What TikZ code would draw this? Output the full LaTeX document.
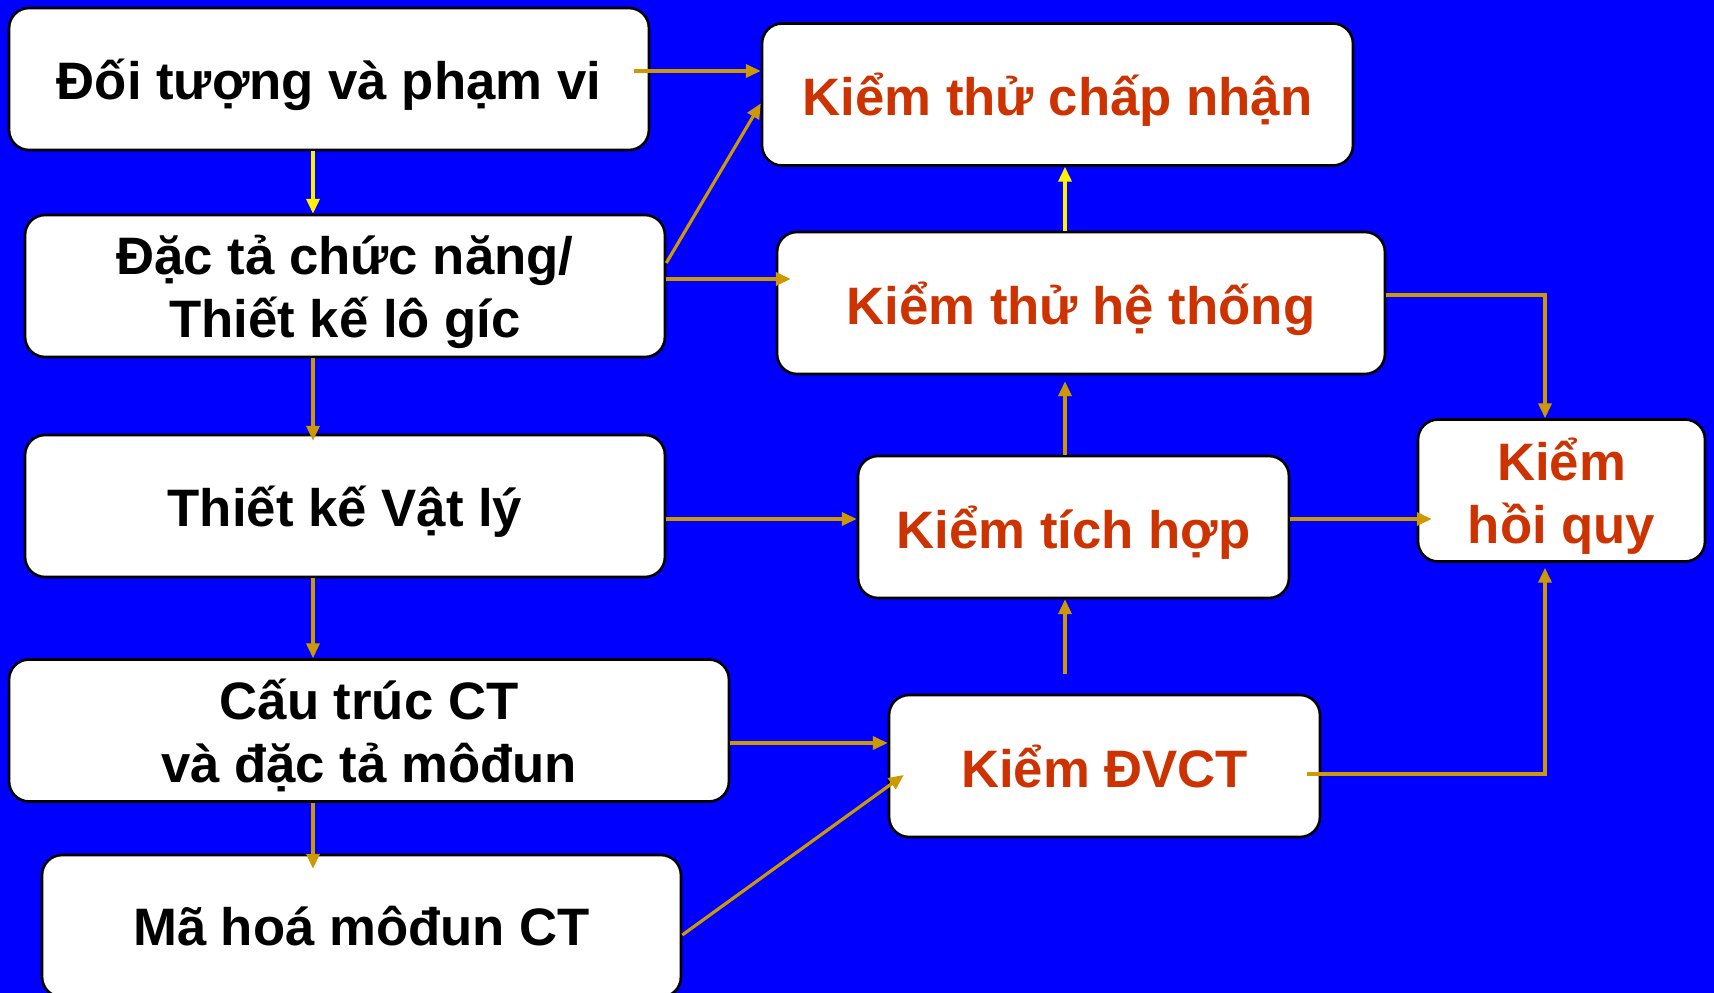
\documentclass[tikz,border=0pt]{standalone}
\usepackage{fontspec}
\setmainfont{Liberation Sans}
\usetikzlibrary{arrows.meta,calc}
\definecolor{bgblue}{HTML}{0000FF}
\definecolor{arrgold}{HTML}{CC9900}
\definecolor{testred}{HTML}{CC3300}
\tikzset{
  box/.style={draw=black, fill=white, line width=1.5pt, rounded corners=0.4cm,
    minimum height=2.84cm, inner sep=0pt, align=center, text depth=0pt,
    font=\bfseries\fontsize{30}{36}\selectfont},
  testbox/.style={box, text=testred},
  arr/.style={draw=arrgold, line width=1.8pt,
    -{Triangle[length=8.5pt,width=7.5pt]}},
  yarr/.style={arr, draw=yellow}
}
\begin{document}
\begin{tikzpicture}[x=0.02cm, y=-0.02cm]
      \fill[bgblue] (0,0) rectangle (1714,993);
      \useasboundingbox (0,0) rectangle (1714,993);
      \draw
        (329,79) node[box, minimum width=12.8cm] (doituong){Đối tượng và phạm vi}
        (345,286) node[box, minimum width=12.8cm] (dacta){Đặc tả chức năng/\\Thiết kế lô gíc}
        (345,506) node[box, minimum width=12.8cm] (vatly){Thiết kế Vật lý}
        (369,730.5) node[box, minimum width=14.4cm] (cautruc){Cấu trúc CT\\và đặc tả môđun}
        (361.5,926) node[box, minimum width=12.78cm] (mahoa){Mã hoá môđun CT}
        (1057.5,94.5) node[testbox, minimum width=11.82cm] (chapnhan){Kiểm thử chấp nhận}
        (1081,303) node[testbox, minimum width=12.16cm] (hethong){Kiểm thử hệ thống}
        (1073.5,527) node[testbox, minimum width=8.62cm] (tichhop){Kiểm tích hợp}
        (1561.5,490.5) node[testbox, minimum width=5.74cm] (hoiquy){Kiểm\\hồi quy}
        (1104.5,766) node[testbox, minimum width=8.62cm] (dvct){Kiểm ĐVCT};
      \coordinate (spine) at (313,0);
      \coordinate (col) at (1065,0);
      \coordinate (rail) at (1545,0);
      \begin{scope}
        % left column, top to bottom
        \draw[yarr] (doituong.south -| spine) -- (dacta.north -| spine);
        \draw[arr] (dacta.south -| spine) -- ($(vatly.north -| spine)+(0,7)$);
        \draw[arr] (vatly.south -| spine) -- (cautruc.north -| spine);
        \draw[arr] (cautruc.south -| spine) -- ($(mahoa.north -| spine)+(0,15)$);
        % left to right
        \draw[arr] ($(doituong.east)+(-16,-8)$) coordinate (s1) -- (s1 -| chapnhan.west);
        \draw[arr] ($(dacta.east)+(0,-23)$) -- ($(chapnhan.west)+(0,9)$);
        \draw[arr] ($(dacta.east)+(0,-7)$) coordinate (s2) -- ($(s2 -| hethong.west)+(15,0)$);
        \draw[arr] ($(vatly.east)+(0,13)$) coordinate (s3) -- (s3 -| tichhop.west);
        \draw[arr] ($(cautruc.east)+(0,12.5)$) coordinate (s4) -- (s4 -| dvct.west);
        \draw[arr] ($(mahoa.east)+(0,9)$) -- ($(dvct.west)+(16,9)$);
        % right column, bottom to top
        \draw[arr] ($(dvct.north -| col)+(0,-20)$) -- (tichhop.south -| col);
        \draw[arr] (tichhop.north -| col) -- ($(hethong.south -| col)+(0,6)$);
        \draw[yarr] (hethong.north -| col) -- (chapnhan.south -| col);
        % into regression box
        \draw[arr] ($(tichhop.east)+(0,-8)$) coordinate (s5) -- ($(s5 -| hoiquy.west)+(15,0)$);
        \draw[arr] ($(hethong.east)+(0,-8)$) -| (hoiquy.north -| rail);
        \draw[arr] ($(dvct.east)+(-14,8)$) -| ($(hoiquy.south -| rail)+(0,5)$);
      \end{scope}
    \end{tikzpicture}
\end{document}
